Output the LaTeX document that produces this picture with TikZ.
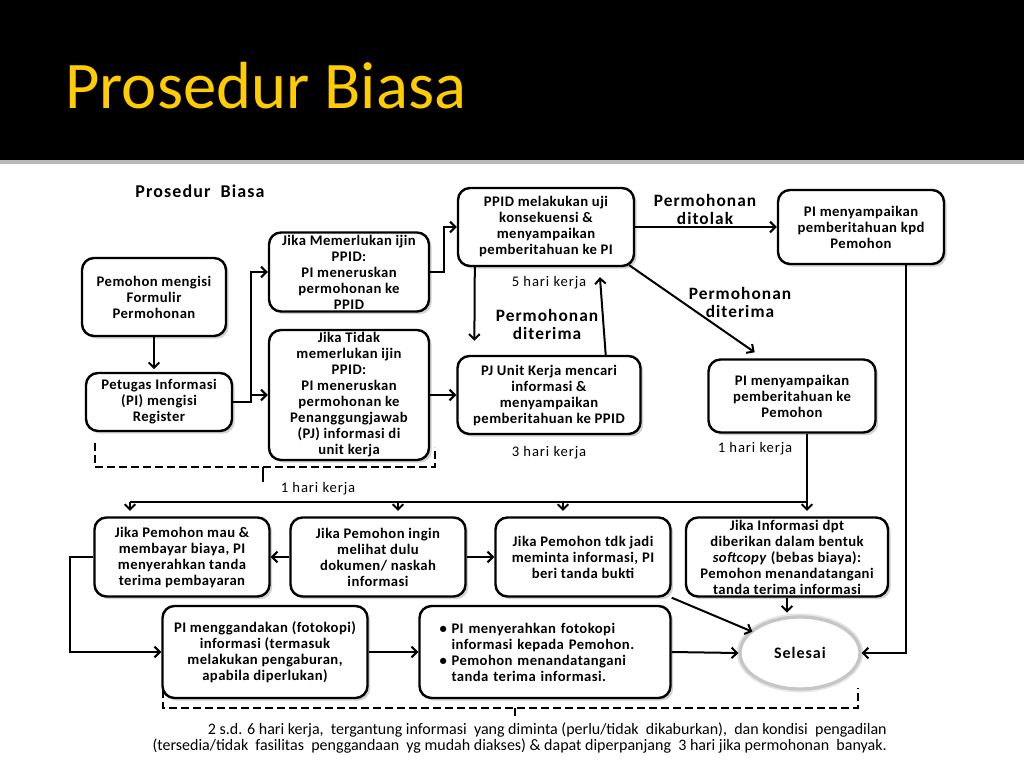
\documentclass[tikz,border=0pt]{standalone}
\usepackage{fontspec}
\setmainfont{Carlito}
\newfontfamily\boxfont[LetterSpace=3]{Carlito}
\newfontfamily\labelfont[LetterSpace=6]{Carlito}
\usepackage{tikz}
\usetikzlibrary{arrows.meta,shadows,shapes.geometric,calc}
\definecolor{titleyellow}{RGB}{255,204,0}

\begin{document}
\begin{tikzpicture}[x=0.75pt,y=-0.75pt,
  procbox/.style={draw, rounded corners=9pt, line width=1.8pt, fill=white,
    drop shadow={opacity=0.35,shadow xshift=2pt,shadow yshift=-2pt},
    align=center, inner sep=1pt, font=\boxfont\bfseries\fontsize{11}{12}\selectfont},
  link/.style={line width=1.5pt},
  conn/.style={line width=1.5pt, -{Straight Barb[length=4pt,width=8pt]}},
  bracket/.style={line width=1.5pt, dash pattern=on 6pt off 3pt},
  lbl/.style={align=center, inner sep=0pt, font=\labelfont\bfseries\fontsize{13}{13.5}\selectfont},
  hari/.style={inner sep=0pt, font=\labelfont\fontsize{11}{13}\selectfont}]
\useasboundingbox (0,0) rectangle (1024,768);
\fill[white] (0,0) rectangle (1024,768);
\fill[black] (0,0) rectangle (1024,160);
\fill[gray!55] (0,160) rectangle (1024,164);
\node[anchor=base west, inner sep=0pt, text=titleyellow, font=\fontsize{50}{60}\selectfont] (title) at (65,108) {Prosedur Biasa};
\node[lbl, font=\labelfont\bfseries\fontsize{13.5}{14}\selectfont] (judul) at (200,191) {Prosedur\ \ Biasa};

% kolom kiri
\node[procbox, minimum width=108pt, minimum height=58.5pt] (pemohon) at (154,297) {Pemohon mengisi\\Formulir\\Permohonan};
\node[procbox, minimum width=109.5pt, minimum height=43.5pt] (petugas) at (159,402) {Petugas Informasi\\(PI) mengisi\\Register};
\node[procbox, minimum width=120pt, minimum height=59.25pt] (ijin) at (349,272) {Jika Memerlukan ijin\\PPID:\\PI meneruskan\\permohonan ke\\PPID};
\node[procbox, minimum width=120pt, minimum height=97.5pt] (tidak) at (349,395) {Jika Tidak\\memerlukan ijin\\PPID:\\PI meneruskan\\permohonan ke\\Penanggungjawab\\(PJ) informasi di\\unit kerja};

% kolom tengah dan kanan
\node[procbox, minimum width=132pt, minimum height=58.5pt] (ppid) at (546,227) {PPID melakukan uji\\konsekuensi \&\\menyampaikan\\pemberitahuan ke PI};
\node[procbox, minimum width=124.5pt, minimum height=55.5pt] (tolak) at (861,227) {PI menyampaikan\\pemberitahuan kpd\\Pemohon};
\node[procbox, minimum width=137.25pt, minimum height=58.5pt] (pj) at (549,395) {PJ Unit Kerja mencari\\informasi \&\\menyampaikan\\pemberitahuan ke PPID};
\node[procbox, minimum width=125.25pt, minimum height=54.75pt] (terima) at (792,396) {PI menyampaikan\\pemberitahuan ke\\Pemohon};

% baris ketiga
\node[procbox, minimum width=131.25pt, minimum height=59.25pt] (bayar) at (182,557) {Jika Pemohon mau \&\\membayar biaya, PI\\menyerahkan tanda\\terima pembayaran};
\node[procbox, minimum width=131.25pt, minimum height=59.25pt] (lihat) at (378,557) {Jika Pemohon ingin\\melihat dulu\\dokumen/ naskah\\informasi};
\node[procbox, minimum width=131.25pt, minimum height=59.25pt] (batal) at (583,557) {Jika Pemohon tdk jadi\\meminta informasi, PI\\beri tanda bukti};
\node[procbox, minimum width=151.5pt, minimum height=59.25pt] (soft) at (787,557) {Jika Informasi dpt\\diberikan dalam bentuk\\\textit{softcopy} (bebas biaya):\\Pemohon menandatangani\\tanda terima informasi};

% baris keempat
\node[procbox, minimum width=153.75pt, minimum height=69pt] (kopi) at (265,652) {PI menggandakan (fotokopi)\\informasi (termasuk\\melakukan pengaburan,\\apabila diperlukan)};
\node[procbox, minimum height=69pt, text width=158.25pt, inner xsep=15pt, align=left] (serah) at (545,652) {\makebox[9pt][l]{\textbullet}PI menyerahkan fotokopi\\\hspace*{9pt}informasi kepada Pemohon.\\\makebox[9pt][l]{\textbullet}Pemohon menandatangani\\\hspace*{9pt}tanda terima informasi.};
\node[ellipse, draw=gray!45, line width=2.5pt, preaction={draw=gray!20, line width=5pt}, fill=white,
  minimum width=90pt, minimum height=54pt, font=\labelfont\bfseries\fontsize{12}{14}\selectfont] (selesai) at (800,653) {Selesai};

% label
\node[lbl] (ditolak) at (705,209) {Permohonan\\ditolak};
\node[lbl] (diterimaA) at (547,324) {Permohonan\\diterima};
\node[lbl] (diterimaB) at (740,302) {Permohonan\\diterima};
\node[hari] (hari5) at (549,283) {5 hari kerja};
\node[hari] (hari3) at (549,453) {3 hari kerja};
\node[hari] (hari1a) at (755,449) {1 hari kerja};
\node[hari] (hari1b) at (318,489) {1 hari kerja};

% panah
\draw[conn, shorten >=2pt] (pemohon.south) -- (pemohon.south |- petugas.north);
\draw[conn] (petugas.east) -- ++(18,0) |- (ijin.west);
\draw[conn] (petugas.east) -- ++(18,0) |- (tidak.west);
\draw[conn] (ijin.east) -- ++(14,0) |- (ppid.west);
\draw[conn] (tidak.east) -- (pj.west);
\draw[conn, shorten >=10.5pt] ([xshift=13.5pt]ppid.south west) -- ([xshift=13.5pt]pj.north west);
\draw[conn, shorten >=7.5pt] ([xshift=-27pt]pj.north east) -- ([xshift=-27pt]ppid.south east);
\draw[conn] (ppid.east) -- (tolak.west);
\draw[conn] ([xshift=-4.5pt,yshift=1.5pt]ppid.south east) -- ([xshift=-28pt,yshift=4.5pt]terima.north);
\draw[conn] ([xshift=34pt]tolak.south) |- (selesai.east);

\coordinate (hubR) at (807,502);
\coordinate (hubL) at (130,502);
\draw[link] ([xshift=11.25pt]terima.south) -- (hubR) -- (hubL);
\draw[conn, shorten >=4pt] (hubL) -- (hubL |- bayar.north);
\draw[conn, shorten >=4pt] ([xshift=15pt]lihat.north |- hubL) -- ([xshift=15pt]lihat.north);
\draw[conn, shorten >=4pt] ([xshift=-15pt]batal.north |- hubL) -- ([xshift=-15pt]batal.north);
\draw[conn, shorten >=4pt] ([xshift=15pt]soft.north |- hubL) -- ([xshift=15pt]soft.north);

\draw[conn] (lihat.west) -- (bayar.east);
\draw[conn] (lihat.east) -- (batal.west);
\draw[conn] (bayar.west) -- ++(-23,0) |- (kopi.west);
\draw[conn] (kopi.east) -- (serah.west);
\draw[conn] (serah.east) -- (selesai.west);
\draw[conn] (batal.south east) -- ([xshift=-3pt,yshift=-4pt]selesai.north west);
\draw[conn, shorten >=2pt] (soft.south) -- (soft.south |- selesai.north);

% kurung putus-putus
\draw[bracket] (95,443) -- (95,467) -- (435,467) -- (435,447);
\draw[link] (263,467) -- (263,482);
\draw[bracket] (163,690) -- (163,708) -- (858,708) -- (858,688);
\draw[link] (515,708) -- (515,716);

\node[anchor=east, align=right, inner sep=0pt, font=\fontsize{12}{12}\selectfont] (catatan) at (887,738)
  {2 s.d. 6 hari kerja,\ \ tergantung informasi\ \ yang diminta (perlu/tidak\ \ dikaburkan),\ \ dan kondisi\ \ pengadilan\\
   (tersedia/tidak\ \ fasilitas\ \ penggandaan\ \ yg mudah diakses) \& dapat diperpanjang\ \ 3 hari jika permohonan\ \ banyak.};
\end{tikzpicture}
\end{document}
